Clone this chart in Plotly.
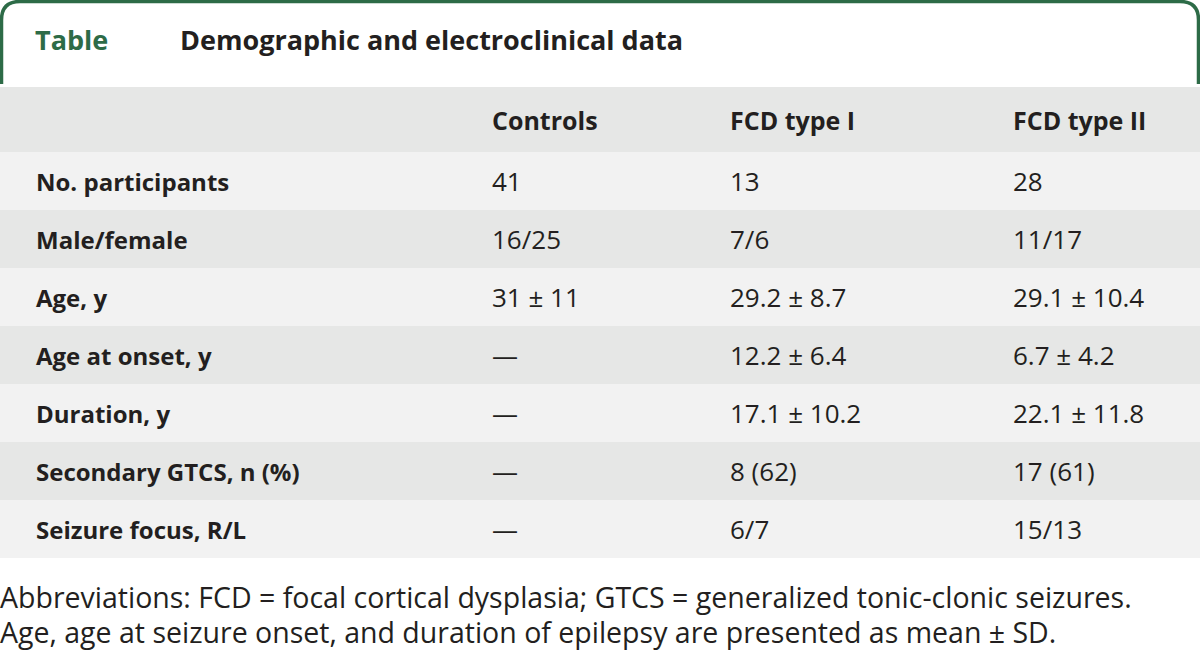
import plotly.graph_objects as go

# ---- data ----
columns = ["Controls", "FCD type I", "FCD type II"]
row_labels = ["No. participants", "Male/female", "Age, y", "Age at onset, y",
              "Duration, y", "Secondary GTCS, n (%)", "Seizure focus, R/L"]
controls = ["41", "16/25", "31 ± 11", "—", "—", "—", "—"]
fcd_type1 = ["13", "7/6", "29.2 ± 8.7", "12.2 ± 6.4", "17.1 ± 10.2", "8 (62)", "6/7"]
fcd_type2 = ["28", "11/17", "29.1 ± 10.4", "6.7 ± 4.2", "22.1 ± 11.8", "17 (61)", "15/13"]
title_tag = "Table"
title_text = "Demographic and electroclinical data"
footnote = ["Abbreviations: FCD = focal cortical dysplasia; GTCS = generalized tonic-clonic seizures.",
            "Age, age at seizure onset, and duration of epilepsy are presented as mean ± SD."]

# ---- style / layout ----
W, H = 1200, 655
GREEN = "#2d6b47"
TEXT = "#231f20"
HEAD_BG = "#e6e7e6"
ROW_A = "#f2f2f2"
ROW_B = "#e6e7e6"
FONT = "Open Sans"
TABLE_TOP = 87
HEADER_H = 65
ROW_H = 58
COL_X = [34, 490, 728, 1011]
LABEL_SIZE = 24
HEAD_SIZE = 25
VALUE_SIZE = 26
NOTE_SIZE = 28.5
TITLE_SIZE = 27

n = len(row_labels)
fig = go.Figure()

# header background
fig.add_shape(type="rect", xref="x", yref="y", x0=0, x1=W, y0=TABLE_TOP,
              y1=TABLE_TOP + HEADER_H, fillcolor=HEAD_BG, line_width=0, layer="below")
for j, c in enumerate(columns):
    fig.add_annotation(x=COL_X[j + 1], y=TABLE_TOP + HEADER_H / 2, xref="x", yref="y",
                       text=f"<b>{c}</b>", showarrow=False, xanchor="left", yanchor="middle",
                       font=dict(family=FONT, size=HEAD_SIZE, color=TEXT))

body_cols = [controls, fcd_type1, fcd_type2]
for i, lab in enumerate(row_labels):
    y0 = TABLE_TOP + HEADER_H + ROW_H * i
    fig.add_shape(type="rect", xref="x", yref="y", x0=0, x1=W, y0=y0, y1=y0 + ROW_H,
                  fillcolor=ROW_A if i % 2 == 0 else ROW_B, line_width=0, layer="below")
    yc = y0 + ROW_H / 2
    fig.add_annotation(x=COL_X[0], y=yc, xref="x", yref="y", text=f"<b>{lab}</b>",
                       showarrow=False, xanchor="left", yanchor="middle",
                       font=dict(family=FONT, size=LABEL_SIZE, color=TEXT))
    for j, col in enumerate(body_cols):
        fig.add_annotation(x=COL_X[j + 1], y=yc, xref="x", yref="y", text=col[i],
                           showarrow=False, xanchor="left", yanchor="middle",
                           font=dict(family=FONT, size=VALUE_SIZE, color=TEXT))

# rounded green frame
r = 20
path = (f"M 1.5,{TABLE_TOP - 3} L 1.5,{r} Q 1.5,1.5 {r},1.5 "
        f"L {W - r},1.5 Q {W - 1.5},1.5 {W - 1.5},{r} L {W - 1.5},{TABLE_TOP - 3}")
fig.add_shape(type="path", path=path, xref="x", yref="y",
              line=dict(color=GREEN, width=3.5))

fig.add_annotation(x=33, y=39, xref="x", yref="y", text=f"<b>{title_tag}</b>",
                   showarrow=False, xanchor="left", yanchor="middle",
                   font=dict(family=FONT, size=TITLE_SIZE, color=GREEN))
fig.add_annotation(x=178, y=39, xref="x", yref="y", text=f"<b>{title_text}</b>",
                   showarrow=False, xanchor="left", yanchor="middle",
                   font=dict(family=FONT, size=TITLE_SIZE, color=TEXT))
for i, line in enumerate(footnote):
    fig.add_annotation(x=0, xshift=-2, y=597 + 35 * i, xref="x", yref="y", text=line,
                       showarrow=False, xanchor="left", yanchor="middle",
                       font=dict(family=FONT, size=NOTE_SIZE, color=TEXT))

fig.update_xaxes(range=[0, W], visible=False, fixedrange=True)
fig.update_yaxes(range=[H, 0], visible=False, fixedrange=True)
fig.update_layout(width=W, height=H, margin=dict(l=0, r=0, t=0, b=0),
                  paper_bgcolor="white", plot_bgcolor="white", showlegend=False)
fig.write_html("out.html", post_script="document.body.style.margin='0';",
               config={"displayModeBar": False})
